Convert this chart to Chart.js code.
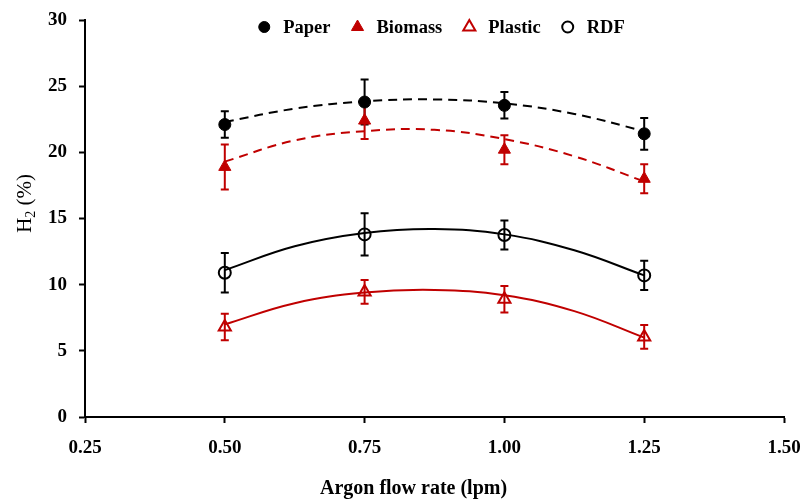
<!DOCTYPE html>
<html>
<head>
<meta charset="utf-8">
<script src="https://cdn.jsdelivr.net/npm/chart.js@4.4.1/dist/chart.umd.min.js"></script>
<style>
  html, body { margin: 0; padding: 0; background: #fff; }
  #wrap { width: 806px; height: 503px; }
</style>
</head>
<body>
<div id="wrap"><canvas id="h2Chart"></canvas></div>
<script>
// measured points
const flowRates = [0.50, 0.75, 1.00, 1.25];
const paper = [22.1, 23.8, 23.55, 21.4];
const paperErr = [1.0, 1.7, 1.0, 1.2];
const biomass = [18.9, 22.4, 20.2, 18.0];
const biomassErr = [1.7, 1.4, 1.1, 1.1];
const plastic = [6.8, 9.45, 8.9, 6.05];
const plasticErr = [1.0, 0.9, 1.0, 0.9];
const rdf = [10.9, 13.8, 13.75, 10.7];
const rdfErr = [1.5, 1.6, 1.1, 1.1];

// trend curves
const curveX = [0.5, 0.625, 0.75, 0.875, 1.0, 1.125, 1.25];
const paperCurve = [22.3, 23.3, 23.85, 24.0, 23.7, 22.9, 21.6];
const biomassCurve = [19.3, 20.9, 21.6, 21.7, 21.0, 19.7, 17.8];
const rdfCurve = [11.1, 12.9, 13.9, 14.2, 13.8, 12.6, 10.7];
const plasticCurve = [7.0, 8.6, 9.4, 9.6, 9.2, 8.0, 6.0];

const xTicks = [0.25, 0.50, 0.75, 1.00, 1.25, 1.50];

const RED = '#c00000';
const FONT = '"Liberation Serif", "Times New Roman", serif';

const toXY = (xs, ys) => xs.map((x, i) => ({ x: x, y: ys[i] }));

// vertical error bars with caps
const errorBars = {
    id: 'errorBars',
    beforeDatasetsDraw(chart) {
        const ctx = chart.ctx;
        const xs = chart.scales.x, ys = chart.scales.y;
        chart.data.datasets.forEach(ds => {
            if (!ds.errors) return;
            ctx.save();
            ctx.strokeStyle = ds.borderColor;
            ctx.lineWidth = 2;
            ds.data.forEach((p, i) => {
                const px = xs.getPixelForValue(p.x);
                const top = ys.getPixelForValue(p.y + ds.errors[i]);
                const bot = ys.getPixelForValue(p.y - ds.errors[i]);
                ctx.beginPath();
                ctx.moveTo(px, top); ctx.lineTo(px, bot);
                ctx.moveTo(px - 4, top); ctx.lineTo(px + 4, top);
                ctx.moveTo(px - 4, bot); ctx.lineTo(px + 4, bot);
                ctx.stroke();
            });
            ctx.restore();
        });
    }
};

// one-row legend inside the plot + both axis titles (the originals sit off-centre)
const annotations = {
    id: 'annotations',
    afterDraw(chart) {
        const ctx = chart.ctx;
        const area = chart.chartArea;
        const items = chart.data.datasets.filter(ds => !ds.isCurve);
        ctx.save();
        ctx.font = 'bold 18.5px ' + FONT;
        ctx.textBaseline = 'middle';
        const widths = items.map(ds => ctx.measureText(ds.label).width);
        const markerGap = 19, itemGap = 27;
        let total = 0;
        widths.forEach((w, i) => { total += 6 + markerGap + w + (i < widths.length - 1 ? itemGap : 0); });
        let x = (area.left + area.right) / 2 + 16 - total / 2 + 6;
        const y = 27;
        items.forEach((ds, i) => {
            ctx.fillStyle = ds.backgroundColor;
            ctx.strokeStyle = ds.borderColor;
            ctx.lineWidth = ds.borderWidth;
            ctx.beginPath();
            if (ds.pointStyle === 'circle') {
                ctx.arc(x, y, ds.pointRadius - 0.5, 0, Math.PI * 2);
            } else {
                const r = ds.pointRadius;
                ctx.moveTo(x, y - r);
                ctx.lineTo(x + r * 0.866, y + r * 0.5);
                ctx.lineTo(x - r * 0.866, y + r * 0.5);
                ctx.closePath();
            }
            ctx.fill();
            ctx.stroke();
            ctx.fillStyle = '#000';
            ctx.fillText(ds.label, x + markerGap, y + 1);
            x += markerGap + widths[i] + itemGap;
        });

        // x title
        ctx.fillStyle = '#000';
        ctx.textAlign = 'center';
        ctx.font = 'bold 20px ' + FONT;
        ctx.fillText('Argon flow rate (lpm)', area.left + (area.right - area.left) * 0.47, 489);

        // y title: H with subscript 2
        ctx.translate(25, area.top + (area.bottom - area.top) * 0.462);
        ctx.rotate(-Math.PI / 2);
        ctx.textAlign = 'left';
        const big = '21px ' + FONT, small = '14px ' + FONT;
        ctx.font = big;
        const wH = ctx.measureText('H').width;
        const wRest = ctx.measureText(' (%)').width;
        ctx.font = small;
        const w2 = ctx.measureText('2').width;
        let tx = -(wH + w2 + wRest) / 2;
        ctx.font = big;
        ctx.fillText('H', tx, 0);
        ctx.font = small;
        ctx.fillText('2', tx + wH, 6);
        ctx.font = big;
        ctx.fillText(' (%)', tx + wH + w2, 0);
        ctx.restore();
    }
};

const curve = (data, color, dashed) => ({
    label: '',
    data: data,
    showLine: true,
    borderColor: color,
    borderWidth: 2,
    borderDash: dashed ? [9, 6] : [],
    pointRadius: 0,
    tension: 0.4,
    fill: false,
    isCurve: true
});

new Chart(document.getElementById('h2Chart'), {
    type: 'scatter',
    data: {
        datasets: [
            curve(toXY(curveX, paperCurve), '#000', true),
            curve(toXY(curveX, biomassCurve), RED, true),
            curve(toXY(curveX, plasticCurve), RED, false),
            curve(toXY(curveX, rdfCurve), '#000', false),
            {
                label: 'Paper',
                data: toXY(flowRates, paper),
                errors: paperErr,
                pointStyle: 'circle',
                pointRadius: 6,
                backgroundColor: '#000',
                borderColor: '#000',
                borderWidth: 1
            },
            {
                label: 'Biomass',
                data: toXY(flowRates, biomass),
                errors: biomassErr,
                pointStyle: 'triangle',
                pointRadius: 7,
                backgroundColor: RED,
                borderColor: RED,
                borderWidth: 1
            },
            {
                label: 'Plastic',
                data: toXY(flowRates, plastic),
                errors: plasticErr,
                pointStyle: 'triangle',
                pointRadius: 7,
                backgroundColor: 'rgba(0,0,0,0)',
                borderColor: RED,
                borderWidth: 2
            },
            {
                label: 'RDF',
                data: toXY(flowRates, rdf),
                errors: rdfErr,
                pointStyle: 'circle',
                pointRadius: 6,
                backgroundColor: 'rgba(0,0,0,0)',
                borderColor: '#000',
                borderWidth: 2
            }
        ]
    },
    options: {
        responsive: true,
        maintainAspectRatio: false,
        animation: false,
        layout: { padding: { top: 20, right: 22, left: 0, bottom: 0 } },
        plugins: {
            tooltip: { enabled: false },
            legend: { display: false }
        },
        scales: {
            x: {
                type: 'linear',
                min: 0.25,
                max: 1.5,
                afterBuildTicks: axis => { axis.ticks = xTicks.map(v => ({ value: v })); },
                afterFit: axis => {
                    axis.height = 86;
                    axis.paddingLeft = 0;
                    axis.paddingRight = 0;
                },
                grid: { drawOnChartArea: false, tickLength: 6, tickWidth: 2, color: '#000' },
                border: { color: '#000', width: 2 },
                ticks: {
                    color: '#000',
                    padding: 14,
                    font: { family: FONT, size: 19, weight: 'bold' },
                    callback: v => v.toFixed(2)
                }
            },
            y: {
                min: 0,
                max: 30,
                afterFit: axis => {
                    axis.width = 85;
                    axis.paddingTop = 0;
                    axis.paddingBottom = 0;
                },
                grid: { drawOnChartArea: false, tickLength: 6, tickWidth: 2, color: '#000' },
                border: { color: '#000', width: 2 },
                ticks: {
                    stepSize: 5,
                    color: '#000',
                    padding: 12,
                    font: { family: FONT, size: 19, weight: 'bold' }
                }
            }
        }
    },
    plugins: [errorBars, annotations]
});
</script>
</body>
</html>
